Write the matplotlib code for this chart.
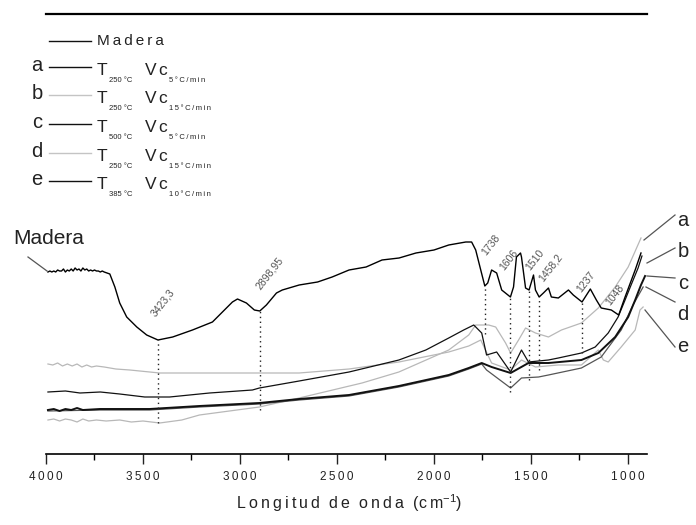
import matplotlib
matplotlib.use("Agg")
import matplotlib.pyplot as plt
from matplotlib.lines import Line2D
from matplotlib.ticker import MultipleLocator, FuncFormatter

plt.rcParams['font.family'] = ['Liberation Sans', 'DejaVu Sans']
plt.rcParams['mathtext.fontset'] = 'custom'
plt.rcParams['mathtext.rm'] = 'Liberation Sans'

# ---------------- data (wavenumber cm-1, transmittance a.u.) ----------------
madera_wn = [3990, 3980, 3970, 3960, 3950, 3940, 3930, 3920, 3910, 3900, 3890, 3880, 3870, 3860,
             3850, 3840, 3830, 3820, 3810, 3800, 3790, 3780, 3770, 3760, 3750, 3740, 3730, 3720,
             3710, 3700, 3671, 3645, 3620, 3584, 3532, 3481, 3423, 3347,
             3245, 3142, 3039, 3013, 2967, 2926, 2898, 2864, 2812, 2782, 2695, 2600, 2525, 2438,
             2350, 2268, 2180, 2093, 2000, 1924, 1836, 1806, 1785, 1759, 1738, 1723, 1703, 1677,
             1651, 1606, 1590, 1575, 1554, 1549, 1528, 1510, 1487, 1477, 1458, 1436, 1410, 1395,
             1359, 1307, 1282, 1237, 1194, 1163, 1138, 1086, 1048, 1015, 963, 933]
madera_t = [182, 183, 182, 183, 182, 184, 183, 183, 185, 182, 184, 183, 185, 183,
            186, 184, 185, 183, 186, 184, 185, 183, 184, 183, 184, 183, 183, 182,
            183, 182, 180, 167, 151, 137, 127, 119, 114, 117,
            124, 132, 152, 155, 151, 144, 143, 149, 161, 164, 169, 172, 177, 184,
            187, 194, 196, 201, 204, 209, 212, 212, 204, 184, 168, 171, 184, 181,
            164, 157, 167, 197, 201, 197, 166, 164, 179, 164, 157, 161, 166, 157,
            156, 164, 159, 152, 165, 154, 146, 144, 139, 157, 184, 201]

a_wn = [3990, 3960, 3930, 3900, 3870, 3840, 3810, 3780, 3740, 3690, 3620, 3560, 3500, 3414,
        3300, 3209, 2900, 2695, 2371, 2181, 1924, 1821, 1785, 1718, 1682, 1631, 1605, 1564,
        1528, 1477, 1410, 1343, 1240, 1153, 1066, 999, 933]
a_t = [34, 35, 33, 35, 34, 32, 35, 33, 34, 33, 34, 32, 33, 31,
       34, 39, 47, 56, 71, 82, 104, 119, 129, 129, 127, 111, 101, 114,
       126, 121, 117, 124, 131, 146, 167, 187, 216]

b_wn = [3990, 3900, 3825, 3720, 3620, 3491, 3363, 3157, 2936, 2900, 2695, 2438, 2181, 2042,
        1924, 1847, 1795, 1754, 1729, 1677, 1605, 1549, 1513, 1410, 1359, 1240, 1169, 1102,
        1051, 1015, 984, 948, 928]
b_t = [62, 63, 61, 62, 60, 57, 57, 61, 64, 66, 73, 82, 94, 104,
       116, 124, 129, 121, 99, 102, 82, 104, 92, 94, 96, 101, 107, 121,
       137, 154, 169, 186, 198]

c_wn = [3990, 3960, 3930, 3900, 3870, 3840, 3810, 3722, 3466, 3209, 2900, 2695, 2438, 2181,
        1924, 1821, 1754, 1703, 1605, 1513, 1410, 1240, 1153, 1066, 999, 963, 933, 912]
c_t = [44, 45, 43, 45, 44, 46, 44, 45, 45, 48, 51, 55, 59, 68,
       79, 86, 91, 87, 81, 91, 91, 94, 101, 117, 137, 154, 169, 178]

d_wn = [3990, 3722, 3466, 3209, 2900, 2695, 2438, 2181, 1924, 1821, 1754, 1729, 1605, 1549,
        1461, 1410, 1240, 1138, 1035, 974, 922]
d_t = [43, 44, 44, 47, 50, 54, 58, 67, 78, 85, 90, 84, 66, 76,
       77, 79, 86, 97, 124, 149, 167]

e_wn = [3990, 3965, 3940, 3915, 3890, 3865, 3840, 3815, 3790, 3765, 3740, 3700, 3640, 3568,
        3414, 2900, 2695, 2438, 2181, 1924, 1821, 1759, 1703, 1605, 1549, 1477, 1359, 1240,
        1153, 1127, 1102, 1035, 963, 938, 922]
e_t = [90, 89, 91, 88, 90, 88, 90, 87, 89, 87, 88, 87, 85, 84,
       81, 81, 81, 85, 92, 102, 108, 114, 91, 84, 94, 87, 89, 89,
       104, 94, 92, 107, 124, 144, 147]

peak_wn = [3423.3, 2898.95, 1738, 1606, 1510, 1458.2, 1237, 1048]
peak_labels = ['3423,3', '2898,95', '1738', '1606', '1510', '1458,2', '1237', '1048']
drop_top = [114, 143, 168, 157, 164, 157, 152]
drop_bottom = [31, 44, 120, 62, 74, 84, 101]
label_x = [3398, 2849, 1708, 1615, 1477, 1400, 1215, 1066]
label_y = [151, 181, 209, 194, 194, 186, 172, 159]

legend_letters = ['a', 'b', 'c', 'd', 'e']
legend_temps = ['250 °C', '250 °C', '500 °C', '250 °C', '385 °C']
legend_rates = ['5°C/min', '15°C/min', '5°C/min', '15°C/min', '10°C/min']
legend_colors = ['#111111', '#c4c4c4', '#111111', '#c4c4c4', '#111111']


def spaced(s):
    return '\u2009'.join(s)


# ---------------- figure ----------------
W, H = 696, 525
fig = plt.figure(figsize=(W / 100, H / 100), dpi=100)


def P(x, y):
    return (x / W, 1 - y / H)


ax = fig.add_axes([46 / W, 1 - 454 / H, 601 / W, 440 / H])
ax.set_xlim(4000, 902)
ax.set_ylim(0, 440)

ax.plot(a_wn, a_t, color='#b8b8b8', lw=0.9)
ax.plot(e_wn, e_t, color='#b8b8b8', lw=0.9)
ax.plot(d_wn, d_t, color='#555555', lw=0.9)
ax.plot(c_wn, c_t, color='#111111', lw=1.4)
ax.plot(b_wn, b_t, color='#111111', lw=0.9)
ax.plot(madera_wn, madera_t, color='#000000', lw=1.0)

for wn, top, bot in zip(peak_wn, drop_top, drop_bottom):
    ax.plot([wn, wn], [bot, top], color='#222222', lw=1.0, ls=(0, (1, 2.5)))
for lx, ly, lab in zip(label_x, label_y, peak_labels):
    ax.text(lx, ly, lab, rotation=52, fontsize=7.5, color='#555555',
            ha='center', va='center', rotation_mode='anchor')

for s in ['left', 'right']:
    ax.spines[s].set_visible(False)
ax.spines['top'].set_linewidth(1.6)
ax.spines['bottom'].set_linewidth(1.2)
ax.set_yticks([])
ax.xaxis.set_major_locator(MultipleLocator(500))
ax.xaxis.set_minor_locator(MultipleLocator(250))
ax.xaxis.set_major_formatter(FuncFormatter(lambda v, p: spaced(str(int(v)))))
ax.tick_params(axis='x', which='major', direction='out', length=7, width=1.0,
               labelsize=8.5, pad=5, colors='#222222')
ax.tick_params(axis='x', which='minor', direction='out', length=4, width=1.0)

fig.text(*P(349, 503), spaced('Longitud') + '  ' + spaced('de') + '  ' + spaced('onda') + '  (c\u2009m$^{\\mathregular{-1}}$)',
         fontsize=11.5, ha='center', va='center', color='#222222')

# Madera label with pointer
fig.text(*P(49, 238), 'Madera', fontsize=15, ha='center', va='center', color='#222222')
fig.add_artist(Line2D([P(28, 257)[0], P(47, 271)[0]], [P(28, 257)[1], P(47, 271)[1]],
                      color='#555555', lw=0.9))

# right-hand labels and pointers
right_base = [226, 257, 289, 320, 352]
ptr_start = [(675, 215), (675, 248), (675, 278), (675, 302), (675, 347)]
ptr_end = [(644, 240), (647, 263), (647, 276), (646, 287), (645, 310)]
for lab, yb, s, e in zip(legend_letters, right_base, ptr_start, ptr_end):
    fig.text(*P(683, yb), lab, fontsize=14.5, ha='center', va='baseline', color='#222222')
    fig.add_artist(Line2D([P(*s)[0], P(*e)[0]], [P(*s)[1], P(*e)[1]], color='#555555', lw=0.9))

# legend (drawn manually)
rows = [41, 67, 95, 124, 153, 181]
fig.add_artist(Line2D([P(49, rows[0])[0], P(91, rows[0])[0]], [P(49, rows[0])[1]] * 2,
                      color='#111111', lw=1.0))
fig.text(*P(97, rows[0]), spaced('Madera'), fontsize=11, ha='left', va='center', color='#222222')
for i, (lab, tmp, rate, col) in enumerate(zip(legend_letters, legend_temps, legend_rates, legend_colors)):
    y = rows[i + 1]
    fig.text(*P(37, y + 4), lab, fontsize=14.5, ha='center', va='baseline', color='#222222')
    fig.add_artist(Line2D([P(49, y)[0], P(91, y)[0]], [P(49, y)[1]] * 2, color=col, lw=1.0))
    fig.text(*P(97, y + 8), 'T', fontsize=12.5, ha='left', va='baseline', color='#222222')
    fig.text(*P(109, y + 15), tmp, fontsize=5.5, ha='left', va='baseline', color='#222222')
    fig.text(*P(145, y + 8), 'V', fontsize=12.5, ha='left', va='baseline', color='#222222')
    fig.text(*P(158, y + 8), 'c', fontsize=12.5, ha='left', va='baseline', color='#222222')
    fig.text(*P(169, y + 15), spaced(rate), fontsize=5.5, ha='left', va='baseline', color='#222222')

fig.savefig('out.png', dpi=100)
